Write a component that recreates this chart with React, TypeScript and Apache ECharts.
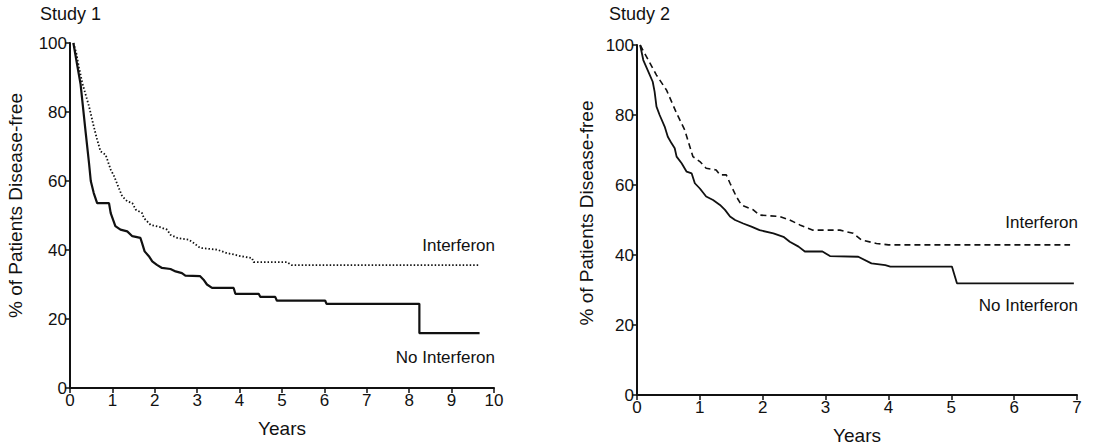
import React, { useEffect, useRef } from "react";
import * as echarts from "echarts";

// Study 1 (years, % disease-free)
const study1NoInterferon: [number, number][] = [
  [0.08, 100], [0.15, 95], [0.25, 88], [0.37, 74], [0.45, 65], [0.49, 60], [0.56, 56.5],
  [0.64, 53.6], [0.92, 53.6], [0.96, 50.7], [1.07, 46.9], [1.19, 45.9], [1.35, 45.4],
  [1.47, 44], [1.66, 43.5], [1.7, 42], [1.76, 39.6], [1.86, 38.2], [1.94, 36.7],
  [2.05, 35.7], [2.17, 34.8], [2.37, 34.5], [2.49, 33.8], [2.64, 33.3], [2.72, 32.6],
  [3.07, 32.4], [3.15, 31.4], [3.23, 30], [3.35, 29], [3.86, 29], [3.9, 27.3],
  [4.45, 27.3], [4.49, 26.4], [4.84, 26.4], [4.88, 25.3], [6.02, 25.3], [6.05, 24.4],
  [8.24, 24.4], [8.24, 15.9], [9.66, 15.9],
];
const study1Interferon: [number, number][] = [
  [0.08, 100], [0.15, 97], [0.21, 93], [0.29, 88.4], [0.45, 81.6], [0.56, 75.8],
  [0.64, 72], [0.72, 68.6], [0.84, 67.6], [0.96, 63.3], [1.04, 61.4], [1.15, 58],
  [1.23, 55.6], [1.35, 54.1], [1.47, 53.6], [1.55, 51.7], [1.7, 50.7], [1.74, 49.3],
  [1.9, 47.3], [2.13, 46.6], [2.29, 45.9], [2.37, 44.4], [2.53, 43.5], [2.8, 43],
  [2.92, 42], [3.07, 40.6], [3.47, 40.1], [3.7, 39.1], [3.9, 38.6], [4.02, 38.2],
  [4.29, 37.7], [4.33, 36.5], [5.11, 36.5], [5.23, 35.6], [9.66, 35.6],
];

// Study 2
const study2NoInterferon: [number, number][] = [
  [0.05, 100], [0.1, 95.7], [0.18, 92.4], [0.25, 89.5], [0.28, 86.7], [0.31, 82.4],
  [0.36, 80], [0.44, 76.7], [0.49, 73.8], [0.55, 71.9], [0.6, 70.5], [0.63, 68.1],
  [0.71, 66.2], [0.79, 63.8], [0.87, 63.3], [0.92, 60.5], [1.0, 59], [1.1, 56.7],
  [1.21, 55.7], [1.32, 54.3], [1.4, 52.9], [1.48, 51], [1.56, 50], [1.69, 49],
  [1.82, 48.1], [1.95, 47.1], [2.17, 46.2], [2.33, 45.2], [2.43, 43.8], [2.57, 42.4],
  [2.67, 41], [2.95, 41], [3.07, 39.7], [3.52, 39.5], [3.73, 37.6], [3.95, 37.1],
  [4.03, 36.7], [5.01, 36.7], [5.09, 31.9], [6.95, 31.9],
];
const study2Interferon: [number, number][] = [
  [0.05, 100], [0.15, 96.7], [0.31, 91.4], [0.47, 87.1], [0.63, 80.5], [0.76, 75.7],
  [0.84, 71], [0.89, 68.1], [1.0, 66.7], [1.1, 64.8], [1.26, 64.3], [1.32, 62.9],
  [1.42, 62.9], [1.48, 60.5], [1.58, 56.7], [1.66, 54.3], [1.85, 52.9], [1.95, 51.4],
  [2.27, 51], [2.43, 50], [2.59, 48.6], [2.8, 47.1], [3.23, 47.1], [3.44, 46.2],
  [3.57, 44.3], [3.81, 43.3], [4.0, 42.9], [6.89, 42.9],
];

const titles = ["Study 1", "Study 2"];
const yAxisTitle = "% of Patients Disease-free";
const xAxisTitle = "Years";
const seriesLabels = ["Interferon", "No Interferon"];
const xMax = [10, 7];

const FONT = "'Liberation Sans', Arial, sans-serif";
const INK = "#111";

export default function App() {
  const ref = useRef<HTMLDivElement>(null);
  useEffect(() => {
    if (!ref.current) return;
    const chart = echarts.init(ref.current, undefined, { renderer: "svg" });
    const grids = [
      { left: 70, top: 43, width: 424, height: 345, outerBoundsMode: "none", containLabel: false },
      { left: 637, top: 45, width: 440, height: 350, outerBoundsMode: "none", containLabel: false },
    ];
    const xAxis = grids.map((_, i) => ({
      type: "value",
      gridIndex: i,
      min: 0,
      max: xMax[i],
      interval: 1,
      name: xAxisTitle,
      nameLocation: "middle",
      nameGap: i === 0 ? 31 : 31,
      nameTextStyle: { fontFamily: FONT, fontSize: 19, color: INK },
      axisLine: { show: true, onZero: false, lineStyle: { color: INK, width: 2 } },
      axisTick: { show: true, length: 5, lineStyle: { color: INK, width: 1.5 } },
      axisLabel: { fontFamily: FONT, fontSize: 17, color: INK, margin: 4 },
      splitLine: { show: false },
    }));
    const yAxis = grids.map((_, i) => ({
      type: "value",
      gridIndex: i,
      min: 0,
      max: 100,
      interval: 20,
      name: yAxisTitle,
      nameLocation: "middle",
      nameGap: i === 0 ? 45 : 41,
      nameRotate: 90,
      nameTextStyle: {
        fontFamily: FONT,
        fontSize: 19,
        color: INK,
        padding: i === 0 ? [0, 0, 0, 20] : [0, 0, 0, 14],
      },
      axisLine: { show: true, onZero: false, lineStyle: { color: INK, width: 2 } },
      axisTick: { show: true, length: 5, lineStyle: { color: INK, width: 1.5 } },
      axisLabel: { fontFamily: FONT, fontSize: 17, color: INK, margin: 3 },
      splitLine: { show: false },
    }));
    const mk = (data: [number, number][], idx: number, type: any, width: number) => ({
      type: "line",
      xAxisIndex: idx,
      yAxisIndex: idx,
      data,
      showSymbol: false,
      symbol: "none",
      lineStyle: { color: INK, width, type },
      silent: true,
    });
    chart.setOption({
      animation: false,
      backgroundColor: "#fff",
      grid: grids,
      xAxis,
      yAxis,
      series: [
        mk(study1Interferon, 0, [1.5, 2], 1.8),
        mk(study1NoInterferon, 0, "solid", 2.2),
        mk(study2Interferon, 1, [6, 4], 1.6),
        mk(study2NoInterferon, 1, "solid", 1.8),
      ],
      graphic: [
        { type: "text", left: 40, top: 5, style: { text: titles[0], font: `18px ${FONT}`, fill: INK } },
        { type: "text", left: 609, top: 5, style: { text: titles[1], font: `18px ${FONT}`, fill: INK } },
        { type: "text", x: 495, y: 245, style: { text: seriesLabels[0], font: `17px ${FONT}`, fill: INK, align: "right", verticalAlign: "middle" } },
        { type: "text", x: 495, y: 357, style: { text: seriesLabels[1], font: `17px ${FONT}`, fill: INK, align: "right", verticalAlign: "middle" } },
        { type: "text", x: 1078, y: 222, style: { text: seriesLabels[0], font: `17px ${FONT}`, fill: INK, align: "right", verticalAlign: "middle" } },
        { type: "text", x: 1078, y: 305, style: { text: seriesLabels[1], font: `17px ${FONT}`, fill: INK, align: "right", verticalAlign: "middle" } },
      ],
    });
    return () => chart.dispose();
  }, []);
  return (
    <div
      ref={ref}
      style={{ position: "absolute", left: 0, top: 0, width: 1102, height: 447 }}
    />
  );
}
